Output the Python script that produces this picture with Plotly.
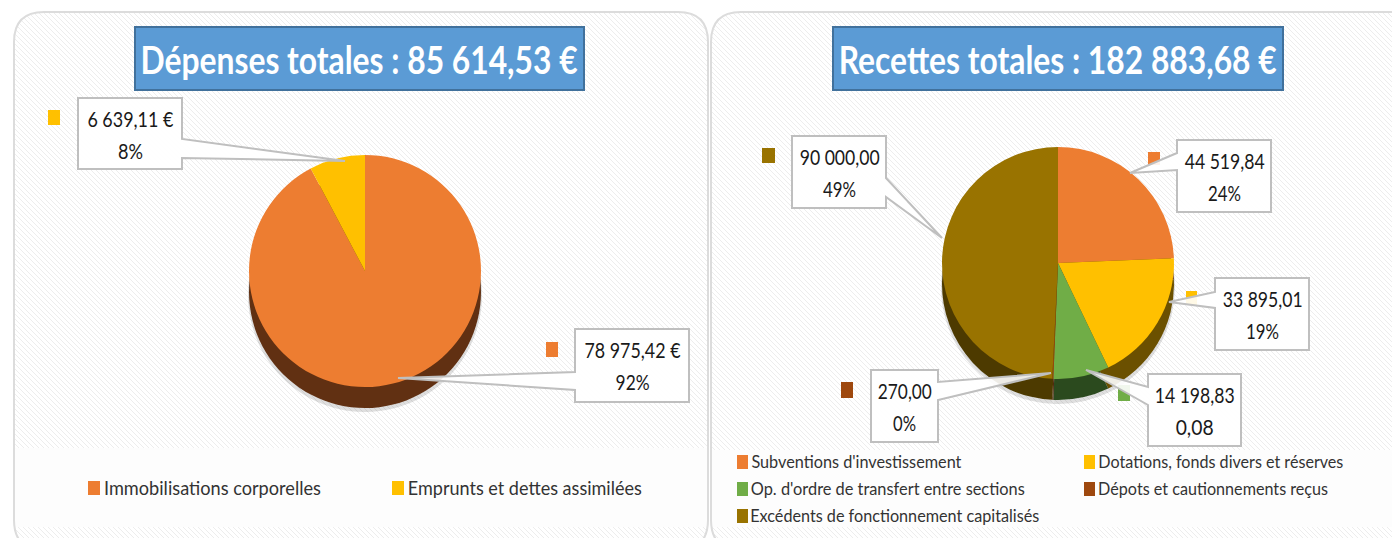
import json
import plotly.graph_objects as go

W, H = 1392, 538

# ---- data ----
dep_labels = ["Immobilisations corporelles", "Emprunts et dettes assimilées"]
dep_values = [78975.42, 6639.11]
dep_colors = ["#ED7D31", "#FFC000"]
dep_dark = ["#613012", "#5E4700"]

rec_labels = ["Subventions d'investissement", "Dotations, fonds divers et réserves",
              "Op. d'ordre de transfert entre sections", "Dépots et cautionnements reçus",
              "Excédents de fonctionnement capitalisés"]
rec_values = [44519.84, 33895.01, 14198.83, 270.00, 90000.00]
rec_colors = ["#ED7D31", "#FFC000", "#70AD47", "#9E480E", "#997300"]
rec_dark = ["#633013", "#6B5000", "#2B4A1E", "#4A2006", "#4D3A00"]

dep_title = "Dépenses totales : 85 614,53 €"
rec_title = "Recettes totales : 182 883,68 €"

FONT = "Lato"

def px(x): return x / W
def py(y): return 1 - y / H

shapes, annos = [], []
fit = {}

def panel_path(x0, y0, x1, y1, r):
    return (f"M{px(x0+r)},{py(y0)} L{px(x1-r)},{py(y0)} Q{px(x1)},{py(y0)} {px(x1)},{py(y0+r)} "
            f"L{px(x1)},{py(y1-r)} Q{px(x1)},{py(y1)} {px(x1-r)},{py(y1)} "
            f"L{px(x0+r)},{py(y1)} Q{px(x0)},{py(y1)} {px(x0)},{py(y1-r)} "
            f"L{px(x0)},{py(y0+r)} Q{px(x0)},{py(y0)} {px(x0+r)},{py(y0)} Z")

def hatch(x0, y0, x1, y1, step=5):
    segs = []
    c = y0 - x1
    while c < y1 - x0:
        ax = max(x0, y0 - c); bx = min(x1, y1 - c)
        if bx > ax:
            segs.append(f"M{px(ax):.5f},{py(ax+c):.5f} L{px(bx):.5f},{py(bx+c):.5f}")
        c += step
    return " ".join(segs)

PANELS = [(14, 12, 708, 550, 30), (711, 12, 1420, 550, 30)]
LEGEND_BANDS = [(15, 448, 707, 527), (712, 450, 1392, 527)]

for p in PANELS:
    shapes.append(dict(type="path", path=hatch(p[0], p[1], min(p[2], W), min(p[3], H)), xref="paper", yref="paper",
                       line=dict(color="#EDEDED", width=1), layer="below"))
for b in LEGEND_BANDS:
    shapes.append(dict(type="rect", x0=px(b[0]), x1=px(b[2]), y0=py(b[1]), y1=py(b[3]), xref="paper", yref="paper",
                       line=dict(width=0), fillcolor="#FDFDFD", layer="below"))
# white outside rounded panels
mask = "M-0.05,-0.05 L1.05,-0.05 L1.05,1.05 L-0.05,1.05 Z " + " ".join(panel_path(*p) for p in PANELS)
shapes.append(dict(type="path", path=mask, xref="paper", yref="paper", fillcolor="#FFFFFF",
                   line=dict(width=0), layer="below"))
for p in PANELS:
    shapes.append(dict(type="path", path=panel_path(*p), xref="paper", yref="paper",
                       line=dict(color="#DCDCDC", width=2), layer="below"))

def square(x0, y0, x1, y1, color):
    shapes.append(dict(type="rect", x0=px(x0), x1=px(x1), y0=py(y0), y1=py(y1), xref="paper", yref="paper",
                       line=dict(width=0), fillcolor=color, layer="above"))

def text(cx, y, s, size, width, color="#1A1A1A", bold=False):
    fit[s] = width
    annos.append(dict(x=px(cx), y=py(y), xref="paper", yref="paper", text=f"<b>{s}</b>" if bold else s,
                      showarrow=False, xanchor="center", yanchor="middle",
                      font=dict(family=FONT, size=size, color=color)))

def callout(box, side, wy0, wy1, tip, line1, w1, line2, w2):
    x0, y0, x1, y1 = box
    tx, ty = tip
    if side == "right":
        pts = [(x0, y0), (x1, y0), (x1, wy0), (tx, ty), (x1, wy1), (x1, y1), (x0, y1)]
    else:
        pts = [(x0, y0), (x1, y0), (x1, y1), (x0, y1), (x0, wy1), (tx, ty), (x0, wy0)]
    path = "M" + " L".join(f"{px(a):.5f},{py(b):.5f}" for a, b in pts) + " Z"
    shapes.append(dict(type="path", path=path, xref="paper", yref="paper",
                       fillcolor="rgba(255,255,255,0.9)", line=dict(color="#BFBFBF", width=2), layer="above"))
    cx = (x0 + x1) / 2
    text(cx, y0 + 20, line1, 21, w1)
    text(cx, y0 + 52, line2, 21, w2)

# value markers then callouts
square(48, 110, 60, 125, dep_colors[1])
square(546, 342, 558, 357, dep_colors[0])
square(1148, 152, 1160, 165, rec_colors[0])
square(1186, 291, 1197, 305, rec_colors[1])
square(1118, 385, 1130, 401, rec_colors[2])
square(841, 382, 853, 398, rec_colors[3])
square(762, 148, 775, 163, rec_colors[4])

callout((78, 98, 182, 169), "right", 139, 158, (345, 161), "6 639,11 €", 86, "8%", 25)
callout((575, 329, 689, 402), "left", 372, 390, (398, 378), "78 975,42 €", 96, "92%", 34)
callout((792, 136, 886, 208), "right", 178, 197, (942, 238), "90 000,00", 80, "49%", 33)
callout((1177, 140, 1271, 212), "left", 153, 170, (1130, 173), "44 519,84", 80, "24%", 33)
callout((1215, 278, 1309, 350), "left", 292, 308, (1169, 302), "33 895,01", 80, "19%", 33)
callout((1148, 374, 1241, 446), "left", 387, 405, (1086, 370), "14 198,83", 80, "0,08", 38)
callout((871, 370, 938, 442), "right", 382, 400, (1051, 373), "270,00", 54, "0%", 23)

# titles
for (x0, x1, t, tw) in [(135, 584, dep_title, 437), (833, 1283, rec_title, 438)]:
    shapes.append(dict(type="rect", x0=px(x0), x1=px(x1), y0=py(27), y1=py(90), xref="paper", yref="paper",
                       fillcolor="#5B9BD5", line=dict(color="#41719C", width=2), layer="below"))
    text((x0 + x1) / 2, 59, t, 39, tw, color="#FFFFFF", bold=True)

# legends
LEG = "#333333"
square(88, 481, 100, 495, dep_colors[0]); text(104 + 217 / 2, 487, dep_labels[0], 20, 217, LEG)
square(392, 481, 404, 495, dep_colors[1]); text(408 + 234 / 2, 487, dep_labels[1], 20, 234, LEG)

rows = [(737, 462, 0, 210), (1084, 462, 1, 245), (737, 489, 2, 274), (1084, 489, 3, 230), (737, 516, 4, 289)]
for x, y, i, w in rows:
    square(x, y - 7, x + 11, y + 7, rec_colors[i])
    text(x + 14 + w / 2, y - 1, rec_labels[i], 18, w, LEG)

# pies
def pie(labels, values, colors, cx, cy, D, opacity=1):
    return go.Pie(labels=labels, values=values, sort=False, direction="clockwise", rotation=0,
                  marker=dict(colors=colors, line=dict(width=0)), textinfo="none", hoverinfo="label+value+percent",
                  opacity=opacity, showlegend=False,
                  domain=dict(x=[px(cx - D / 2), px(cx + D / 2)], y=[py(cy + D / 2), py(cy - D / 2)]))

fig = go.Figure()
DEP = (365, 271, 232)
REC = (1058, 263, 232)
for vals, labs, cols, dark, (cx, cy, D) in [(dep_values, dep_labels, dep_colors, dep_dark, DEP),
                                           (rec_values, rec_labels, rec_colors, rec_dark, REC)]:
    fig.add_trace(pie(labs, vals, ["#000000"] * len(vals), cx, cy + 24, D + 2, 0.12))
    fig.add_trace(pie(labs, vals, dark, cx, cy + 21, D))
    fig.add_trace(pie(labs, vals, cols, cx, cy, D))

fig.update_layout(width=W, height=H, margin=dict(l=0, r=0, t=0, b=0), paper_bgcolor="#FFFFFF",
                  plot_bgcolor="#FFFFFF", shapes=shapes, annotations=annos,
                  font=dict(family=FONT))

# the reference font is condensed: fit each real text run to its measured width
post = """
document.body.style.margin='0';document.body.style.overflow='hidden';
var FIT = %s;
function applyFit(){
  document.querySelectorAll('text.annotation-text').forEach(function(t){
    var w = FIT[t.textContent];
    if(w){ t.setAttribute('textLength', w); t.setAttribute('lengthAdjust','spacingAndGlyphs'); }
  });
}
applyFit(); setTimeout(applyFit, 50); setTimeout(applyFit, 300);
""" % json.dumps(fit, ensure_ascii=False)
fig.write_html("out.html", config={"displayModeBar": False}, post_script=post)
